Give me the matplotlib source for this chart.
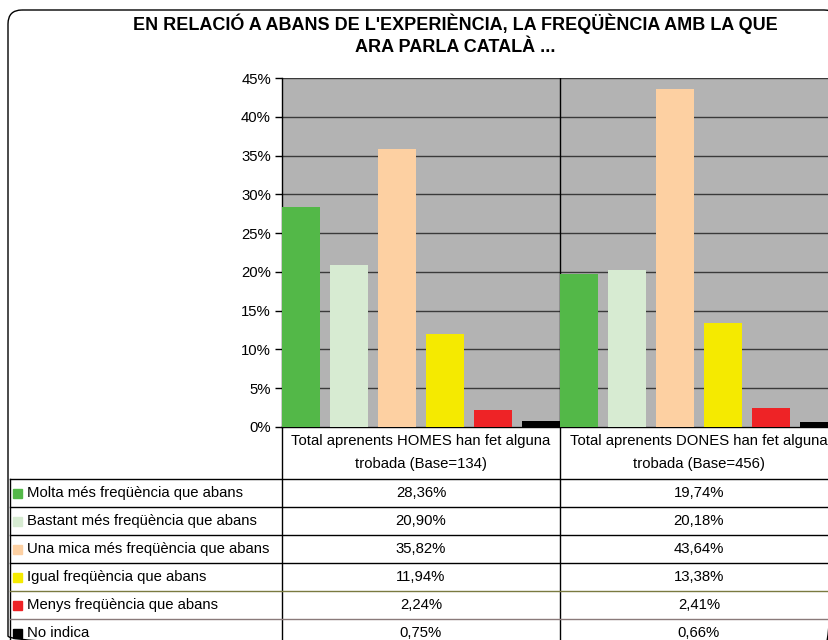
import matplotlib.pyplot as plt
import numpy as np
from matplotlib.patches import FancyBboxPatch, Rectangle
from matplotlib.transforms import blended_transform_factory

plt.rcParams['font.family'] = ['Liberation Sans', 'DejaVu Sans']

# dades
categories = ["Total aprenents HOMES han fet alguna\ntrobada (Base=134)",
              "Total aprenents DONES han fet alguna\ntrobada (Base=456)"]
respostes = ["Molta més freqüència que abans",
             "Bastant més freqüència que abans",
             "Una mica més freqüència que abans",
             "Igual freqüència que abans",
             "Menys freqüència que abans",
             "No indica"]
homes = [28.36, 20.90, 35.82, 11.94, 2.24, 0.75]
dones = [19.74, 20.18, 43.64, 13.38, 2.41, 0.66]
colors = ['#53B848', '#D7EBD2', '#FDD0A2', '#F5EA00', '#EE2326', '#000000']
yticks = [0, 5, 10, 15, 20, 25, 30, 35, 40, 45]

W, H = 829, 640
fs = 10.7
fig = plt.figure(figsize=(W / 100, H / 100), dpi=100)

# capa de fons en pixels per marc, titol i taula
bg = fig.add_axes([0, 0, 1, 1], zorder=0)
bg.set_xlim(0, W)
bg.set_ylim(H, 0)
bg.axis('off')
bg.patch.set_alpha(0)

marc = FancyBboxPatch((8, 10), 830, 640, boxstyle="round,pad=0,rounding_size=14",
                      fill=False, edgecolor='black', linewidth=1.0, clip_on=False)
bg.add_patch(marc)

bg.text(455, 24, "EN RELACIÓ A ABANS DE L'EXPERIÈNCIA, LA FREQÜÈNCIA AMB LA QUE",
        ha='center', va='center', fontsize=13, fontweight='bold')
bg.text(455, 47, "ARA PARLA CATALÀ ...", ha='center', va='center',
        fontsize=13, fontweight='bold')

# grafic de barres
x0, x1 = 282, 838
y0, y1 = 78, 427
ax = fig.add_axes([x0 / W, 1 - y1 / H, (x1 - x0) / W, (y1 - y0) / H], zorder=2)
ax.set_facecolor('#B3B3B3')
ax.set_xlim(-0.5, 1.5)
ax.set_ylim(0, 45)

ample = 38 / 278
pas = 48 / 278
for i in range(len(respostes)):
    pos = np.arange(len(categories)) - 0.5 + ample / 2 + i * pas
    ax.bar(pos, [homes[i], dones[i]], width=ample, color=colors[i], zorder=3)

ax.set_yticks(yticks)
ax.set_yticklabels([f"{t}%" for t in yticks], fontsize=fs)
ax.yaxis.grid(True, color='#3A3A3A', linewidth=1.0, zorder=1)
ax.set_axisbelow(True)
ax.axvline(0.5, color='black', linewidth=1.0, zorder=2)
ax.set_xticks([])
ax.tick_params(axis='y', direction='out', length=5, width=1, pad=3)
for s in ['top', 'right', 'bottom']:
    ax.spines[s].set_visible(False)
ax.spines['left'].set_linewidth(1.0)

# taula de dades
tx = blended_transform_factory(ax.transData, bg.transData)
files = [479, 507, 535, 563, 591, 619, 647]
colors_linies = ['black', 'black', 'black', 'black', '#7A7A40', '#8A7A7A', 'black']

bg.plot([x0, x0], [y1, H], color='black', linewidth=1.0)
bg.plot([560, 560], [y1, H], color='black', linewidth=1.0)
bg.plot([10, 10], [files[0], H], color='black', linewidth=1.0)
bg.plot([x0, W], [y1, y1], color='black', linewidth=1.0)
for yy, cl in zip(files, colors_linies):
    bg.plot([10, W], [yy, yy], color=cl, linewidth=1.0)

for j, cat in enumerate(categories):
    linia1, linia2 = cat.split("\n")
    bg.text(j, 441, linia1, transform=tx, ha='center', va='center', fontsize=fs)
    bg.text(j, 464, linia2, transform=tx, ha='center', va='center', fontsize=fs)

for i, resp in enumerate(respostes):
    yc = (files[i] + files[i + 1]) / 2
    bg.add_patch(Rectangle((13, yc - 4.5), 9, 9, color=colors[i]))
    bg.text(27, yc, resp, ha='left', va='center', fontsize=fs)
    for j, serie in enumerate([homes, dones]):
        bg.text(j, yc, f"{serie[i]:.2f}%".replace('.', ','), transform=tx,
                ha='center', va='center', fontsize=fs)

fig.savefig("out.png", dpi=100)
